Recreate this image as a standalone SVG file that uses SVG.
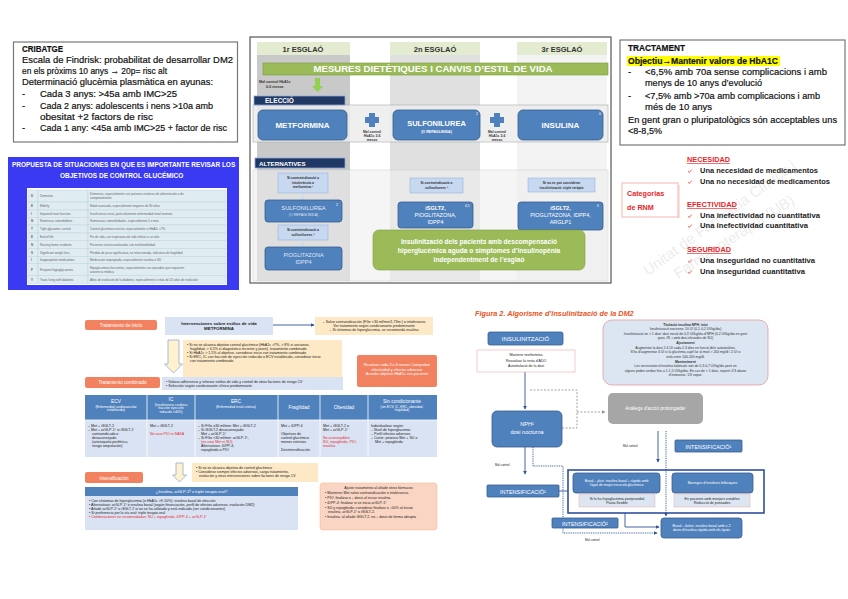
<svg xmlns="http://www.w3.org/2000/svg" width="848" height="599" viewBox="0 0 848 599">
<style>
text{font-family:"Liberation Sans",Arial,sans-serif}
.b{font-weight:bold}
.t9{font-size:9.5px;fill:#111;stroke:#111;stroke-width:0.2}
.w{fill:#fff}
.tiny{font-size:3.4px;fill:#333}
.tn{font-size:3.6px;fill:#222}
.box{stroke:#777;stroke-width:1.2;fill:#fff}
.blue{fill:#4f81bd;stroke:#385d8a;stroke-width:0.8}
.navy{fill:#1f3864;stroke:#8ea9db;stroke-width:0.8}
.lb{fill:#c6d9f1;stroke:#8eaadb;stroke-width:0.5}
.yel{fill:#fde9c6}
.org{fill:#f2825f}
.pale{fill:#dae3f3}
.red{fill:#e8262a}
.con{fill:none;stroke:#2f5597;stroke-width:0.9}
.dash{fill:none;stroke:#999;stroke-width:0.9;stroke-dasharray:2 1.5}
.dot{fill:none;stroke:#2f5597;stroke-width:0.9;stroke-dasharray:1 0.8}
</style>
<defs>
<marker id="ar" viewBox="0 0 6 6" refX="5" refY="3" markerWidth="4" markerHeight="4" orient="auto"><path d="M0,0L6,3L0,6z" fill="#2f5597"/></marker>
<marker id="ag" viewBox="0 0 6 6" refX="5" refY="3" markerWidth="4" markerHeight="4" orient="auto"><path d="M0,0L6,3L0,6z" fill="#999"/></marker>
</defs>
<rect width="848" height="599" fill="#fff"/>

<!-- Top-left CRIBATGE -->
<g id="cribatge">
<rect class="box" x="13.5" y="42" width="224" height="100"/>
<text class="t9 b" x="22" y="52" textLength="41" lengthAdjust="spacingAndGlyphs">CRIBATGE</text>
<text class="t9" x="22" y="63" textLength="211" lengthAdjust="spacingAndGlyphs">Escala de Findrisk: probabilitat de desarrollar DM2</text>
<text class="t9" x="22" y="74" textLength="145" lengthAdjust="spacingAndGlyphs">en els pròxims 10 anys → 20p= risc alt</text>
<text class="t9" x="22" y="85" textLength="191" lengthAdjust="spacingAndGlyphs">Determinació glucèmia plasmàtica en ayunas:</text>
<text class="t9" x="22" y="97">-</text>
<text class="t9" x="40" y="97" textLength="137" lengthAdjust="spacingAndGlyphs">Cada 3 anys: &gt;45a amb IMC&gt;25</text>
<text class="t9" x="22" y="109">-</text>
<text class="t9" x="40" y="109" textLength="173" lengthAdjust="spacingAndGlyphs">Cada 2 anys: adolescents i nens &gt;10a amb</text>
<text class="t9" x="40" y="120" textLength="113" lengthAdjust="spacingAndGlyphs">obesitat +2 factors de risc</text>
<text class="t9" x="22" y="131">-</text>
<text class="t9" x="40" y="131" textLength="187" lengthAdjust="spacingAndGlyphs">Cada 1 any: &lt;45a amb IMC&gt;25 + factor de risc</text>
</g>

<!-- Spanish table -->
<g id="propuesta">
<rect x="8" y="157" width="231" height="133" fill="#3a3af2"/>
<text class="b w" font-size="7.4" transform="translate(12,167) scale(0.8,1)" x="0" y="0" textLength="279" lengthAdjust="spacingAndGlyphs">PROPUESTA DE SITUACIONES EN QUE ES IMPORTANTE REVISAR LOS</text>
<text class="b w" font-size="7.4" transform="translate(60,178) scale(0.8,1)" x="0" y="0" textLength="154" lengthAdjust="spacingAndGlyphs">OBJETIVOS DE CONTROL GLUCÉMICO</text>
<rect x="27" y="188" width="200" height="97" fill="#fff"/>
<g fill="#dfecf2" stroke="#b8cfd8" stroke-width="0.4">
<rect x="28" y="190" width="10" height="12"/><rect x="38" y="190" width="50" height="12"/><rect x="88" y="190" width="138" height="12"/>
<rect x="28" y="202" width="10" height="8"/><rect x="38" y="202" width="50" height="8"/><rect x="88" y="202" width="138" height="8"/>
<rect x="28" y="210" width="10" height="7.5"/><rect x="38" y="210" width="50" height="7.5"/><rect x="88" y="210" width="138" height="7.5"/>
<rect x="28" y="217.5" width="10" height="7.5"/><rect x="38" y="217.5" width="50" height="7.5"/><rect x="88" y="217.5" width="138" height="7.5"/>
<rect x="28" y="225" width="10" height="8"/><rect x="38" y="225" width="50" height="8"/><rect x="88" y="225" width="138" height="8"/>
<rect x="28" y="233" width="10" height="7.5"/><rect x="38" y="233" width="50" height="7.5"/><rect x="88" y="233" width="138" height="7.5"/>
<rect x="28" y="240.5" width="10" height="8"/><rect x="38" y="240.5" width="50" height="8"/><rect x="88" y="240.5" width="138" height="8"/>
<rect x="28" y="248.5" width="10" height="8"/><rect x="38" y="248.5" width="50" height="8"/><rect x="88" y="248.5" width="138" height="8"/>
<rect x="28" y="256.5" width="10" height="7"/><rect x="38" y="256.5" width="50" height="7"/><rect x="88" y="256.5" width="138" height="7"/>
<rect x="28" y="263.5" width="10" height="12"/><rect x="38" y="263.5" width="50" height="12"/><rect x="88" y="263.5" width="138" height="12"/>
<rect x="28" y="275.5" width="10" height="8"/><rect x="38" y="275.5" width="50" height="8"/><rect x="88" y="275.5" width="138" height="8"/>
</g>
<g font-size="3" fill="#666">
<text x="31" y="197" class="b">D</text><text x="40" y="197">Dementia</text><text x="90" y="195">Demencia, especialmente con patrones erráticos de alimentación o de</text><text x="90" y="199">comportamiento</text>
<text x="31" y="207" class="b">E</text><text x="40" y="207">Elderly</text><text x="90" y="207">Edad avanzada, especialmente mayores de 80 años</text>
<text x="31" y="215" class="b">I</text><text x="40" y="215">Impaired renal function</text><text x="90" y="215">Insuficiencia renal, particularmente enfermedad renal terminal</text>
<text x="31" y="222" class="b">N</text><text x="40" y="222">Numerous comorbidities</text><text x="90" y="222">Numerosas comorbilidades, especialmente 5 o más</text>
<text x="31" y="230" class="b">T</text><text x="40" y="230">Tight glycaemic control</text><text x="90" y="230">Control glucémico estricto, especialmente si HbA1c &lt;7%</text>
<text x="31" y="238" class="b">E</text><text x="40" y="238">End of life</text><text x="90" y="238">Fin de vida, con esperanza de vida inferior a un año</text>
<text x="31" y="245.5" class="b">N</text><text x="40" y="245.5">Nursing home residents</text><text x="90" y="245.5">Pacientes institucionalizados con multimorbilidad</text>
<text x="31" y="253.5" class="b">S</text><text x="40" y="253.5">Significant weight loss</text><text x="90" y="253.5">Pérdida de peso significativa, no intencionada, indicativa de fragilidad</text>
<text x="31" y="261" class="b">I</text><text x="40" y="261">Inappropriate medications</text><text x="90" y="261">Medicación inapropiada, especialmente insulina o SU</text>
<text x="31" y="270.5" class="b">F</text><text x="40" y="270.5">Frequent hypoglycaemia</text><text x="90" y="268.5">Hipoglucemias frecuentes, especialmente con episodios que requieren</text><text x="90" y="272.5">asistencia médica</text>
<text x="31" y="280.5" class="b">Y</text><text x="40" y="280.5">Years living with diabetes</text><text x="90" y="280.5">Años de evolución de la diabetes, especialmente si más de 20 años de evolución</text>
</g>
</g>

<!-- Top middle esglaons -->
<g id="esglaons">
<rect x="250" y="37" width="361" height="246" fill="#fff" stroke="#555" stroke-width="1.2"/>
<rect x="257" y="55" width="93" height="226" fill="#c9c9c9"/>
<rect x="390" y="55" width="90" height="226" fill="#e0e0e0"/>
<rect x="517" y="55" width="90" height="226" fill="#f3f3f3"/>
<rect x="257" y="42" width="93" height="13" fill="#e3ebd0"/>
<rect x="390" y="42" width="90" height="13" fill="#e3ebd0"/>
<rect x="517" y="42" width="90" height="13" fill="#e3ebd0"/>
<text class="b" font-size="7.5" fill="#333" x="303" y="51.5" text-anchor="middle">1r ESGLAÓ</text>
<text class="b" font-size="7.5" fill="#333" x="435" y="51.5" text-anchor="middle">2n ESGLAÓ</text>
<text class="b" font-size="7.5" fill="#333" x="562" y="51.5" text-anchor="middle">3r ESGLAÓ</text>
<rect x="263" y="63" width="345" height="12" fill="#9bbb59" stroke="#7a9a3a" stroke-width="0.6"/>
<text class="b w" font-size="8.5" x="433" y="72" text-anchor="middle" textLength="239" lengthAdjust="spacingAndGlyphs">MESURES DIETÈTIQUES I CANVIS D’ESTIL DE VIDA</text>
<text class="b" font-size="3.6" fill="#333" x="259" y="83">Mal control HbA1c</text>
<text class="b" font-size="3.6" fill="#333" x="266" y="88">0-6 mesos</text>
<path d="M315,78h5v8h3l-5.5,6l-5.5,-6h3z" fill="#92d050"/>
<rect x="253" y="105" width="355" height="37" fill="#ececec" fill-opacity="0.85" stroke="#aaa" stroke-width="0.6"/>
<rect class="navy" x="254" y="96" width="91" height="9"/>
<text class="b w" font-size="6.5" x="265" y="103">ELECCIÓ</text>
</g>
<g id="metformina"><rect class="blue" x="258" y="110" width="89" height="30" rx="5"/><text class="b w" font-size="8" x="302.5" y="127.5" text-anchor="middle">METFORMINA</text></g>
<g id="plus1"><path d="M369,113h6v4h4v6h-4v4h-6v-4h-4v-6h4z" fill="#4f81bd"/>
<text class="b" font-size="3.4" fill="#333" x="372" y="133" text-anchor="middle">Mal control</text><text class="b" font-size="3.4" fill="#333" x="372" y="137" text-anchor="middle">HbA1c 3-6</text><text class="b" font-size="3.4" fill="#333" x="372" y="141" text-anchor="middle">mesos</text></g>
<g id="sulfo"><rect class="blue" x="393" y="110" width="87" height="30" rx="5"/><text class="b w" font-size="7.5" x="436.5" y="126" text-anchor="middle">SULFONILUREA</text><text class="b w" font-size="3.6" x="436.5" y="133" text-anchor="middle">(O REPAGLINIDA)</text><text class="w" font-size="3.5" x="476" y="115">2</text></g>
<g id="plus2"><path d="M494,113h6v4h4v6h-4v4h-6v-4h-4v-6h4z" fill="#4f81bd"/>
<text class="b" font-size="3.4" fill="#333" x="497" y="133" text-anchor="middle">Mal control</text><text class="b" font-size="3.4" fill="#333" x="497" y="137" text-anchor="middle">HbA1c 3-6</text><text class="b" font-size="3.4" fill="#333" x="497" y="141" text-anchor="middle">mesos</text></g>
<g id="insulina"><rect class="blue" x="518" y="110" width="85" height="30" rx="5"/><text class="b w" font-size="8" x="560.5" y="128" text-anchor="middle">INSULINA</text><text class="w" font-size="3.5" x="599" y="115">6</text></g>
<g id="alternatives">
<rect x="253" y="170" width="355" height="111" fill="#efefef" fill-opacity="0.6" stroke="#ccc" stroke-width="0.5"/>
<rect class="navy" x="255" y="158" width="90" height="10"/>
<text class="b w" font-size="6.2" x="259" y="165.8">ALTERNATIVES</text>
</g>
<g id="alt1a"><rect class="lb" x="278" y="173" width="50" height="20"/><text class="b tiny" x="303" y="179" text-anchor="middle">Si contraindicació o</text><text class="b tiny" x="303" y="183.5" text-anchor="middle">intolerància a</text><text class="b tiny" x="303" y="188" text-anchor="middle">metformina ¹</text></g>
<path d="M302,193v5h-1.5l2,2l2,-2h-1.5v-5z" fill="#c6d9f1"/>
<g id="alt1b"><rect class="blue" x="265" y="200" width="77" height="22" rx="3"/><text class="w" font-size="5.8" fill-opacity="0.85" x="303.5" y="210" text-anchor="middle">SULFONILUREA</text><text class="w" font-size="3.5" fill-opacity="0.85" x="303.5" y="216" text-anchor="middle">(O REPAGLINIDA)</text><text class="w" font-size="3.5" x="336" y="206">2</text></g>
<g id="alt1c"><rect class="lb" x="278" y="225" width="50" height="15"/><text class="b tiny" x="303" y="231" text-anchor="middle">Si contraindicació a</text><text class="b tiny" x="303" y="236" text-anchor="middle">sulfonilurees ³</text></g>
<path d="M302,240v4h-1.5l2,2l2,-2h-1.5v-4z" fill="#c6d9f1"/>
<g id="alt1d"><rect class="blue" x="265" y="247" width="77" height="23" rx="3"/><text class="w" font-size="5.5" fill-opacity="0.85" x="303.5" y="256.5" text-anchor="middle">PIOGLITAZONA</text><text class="w" font-size="5.5" fill-opacity="0.85" x="303.5" y="264" text-anchor="middle">IDPP4</text></g>
<g id="alt2a"><rect class="lb" x="410" y="178" width="53" height="15"/><text class="b tiny" x="436.5" y="184" text-anchor="middle">Si contraindicació a</text><text class="b tiny" x="436.5" y="189" text-anchor="middle">sulfonilurees ³</text></g>
<g id="alt2b"><rect class="blue" x="398" y="202" width="75" height="26" rx="3"/><text class="w b" font-size="5.5" x="435.5" y="210" text-anchor="middle">iSGLT2,</text><text class="w" font-size="5.5" x="435.5" y="217" text-anchor="middle">PIOGLITAZONA,</text><text class="w" font-size="5.5" x="435.5" y="224" text-anchor="middle">IDPP4</text><text class="w" font-size="3.3" x="465" y="207">4,5</text></g>
<g id="alt3a"><rect class="lb" x="528" y="178" width="67" height="14"/><text class="b tiny" x="561.5" y="184" text-anchor="middle">Si no es pot considerar</text><text class="b tiny" x="561.5" y="188.5" text-anchor="middle">insulinització: triple teràpia</text></g>
<g id="alt3b"><rect class="blue" x="518" y="202" width="85" height="28" rx="3"/><text class="w b" font-size="5.5" x="560.5" y="210" text-anchor="middle">iSGLT2,</text><text class="w" font-size="5.5" x="560.5" y="217" text-anchor="middle">PIOGLITAZONA, IDPP4,</text><text class="w" font-size="5.5" x="560.5" y="224" text-anchor="middle">ARGLP1</text><text class="w" font-size="3.3" x="597" y="207">6</text></g>
<g id="insulinitzacio-green"><rect x="373" y="230" width="212" height="40" rx="6" fill="#9bbb59" stroke="#7f9f45" stroke-width="0.6"/>
<text class="b w" font-size="6.6" x="479" y="244" text-anchor="middle">Insulinització dels pacients amb descompensació</text>
<text class="b w" font-size="6.6" x="479" y="253" text-anchor="middle">hiperglucèmica aguda o símptomes d’insulinopènia</text>
<text class="b w" font-size="6.6" x="479" y="262" text-anchor="middle">independentment de l’esglaó</text></g>

<!-- Top right TRACTAMENT -->
<g id="tractament">
<rect class="box" x="620" y="40" width="225" height="105"/>
<rect x="627" y="56" width="153" height="10" fill="#ffff00"/>
<text class="t9 b" x="628" y="51" textLength="57" lengthAdjust="spacingAndGlyphs">TRACTAMENT</text>
<text class="t9 b" x="628" y="64" textLength="150" lengthAdjust="spacingAndGlyphs">Objectiu→Mantenir valors de HbA1C</text>
<text class="t9" x="628" y="75">-</text>
<text class="t9" x="645" y="75" textLength="182" lengthAdjust="spacingAndGlyphs">&lt;6,5% amb 70a sense complicacions i amb</text>
<text class="t9" x="645" y="86" textLength="117" lengthAdjust="spacingAndGlyphs">menys de 10 anys d’evolució</text>
<text class="t9" x="628" y="99">-</text>
<text class="t9" x="645" y="99" textLength="175" lengthAdjust="spacingAndGlyphs">&lt;7,5% amb &gt;70a amb complicacions i amb</text>
<text class="t9" x="645" y="110" textLength="67" lengthAdjust="spacingAndGlyphs">més de 10 anys</text>
<text class="t9" x="628" y="123" textLength="209" lengthAdjust="spacingAndGlyphs">En gent gran o pluripatològics són acceptables uns</text>
<text class="t9" x="628" y="134" textLength="34" lengthAdjust="spacingAndGlyphs">&lt;8-8,5%</text>
</g>

<!-- RNM -->
<g id="rnm">
<g fill="#dcdcdc" fill-opacity="0.55" font-size="15">
<text transform="translate(648,276) rotate(-36)">Unitat de Farmàcia Clínica i</text>
<text transform="translate(678,279) rotate(-33)">Farmacoteràpia (UB)</text>
</g>
<rect x="622" y="183" width="56" height="34" fill="#fff" stroke="#f4b6b0" stroke-width="1"/>
<rect x="678" y="185" width="1.5" height="33" fill="#f6c9c4"/>
<text class="b red" font-size="7.2" x="627" y="196">Categorias</text>
<text class="b red" font-size="7.2" x="627" y="210">de RNM</text>
<g class="b red" font-size="6.6" text-decoration="underline">
<text x="687" y="162" textLength="43" lengthAdjust="spacingAndGlyphs">NECESIDAD</text>
<text x="687" y="207" textLength="50" lengthAdjust="spacingAndGlyphs">EFECTIVIDAD</text>
<text x="687" y="252" textLength="44" lengthAdjust="spacingAndGlyphs">SEGURIDAD</text>
</g>
<g fill="none" stroke="#e8262a" stroke-width="0.7">
<path d="M688,171l1.3,1.5l2.5,-3"/><path d="M688,182l1.3,1.5l2.5,-3"/>
<path d="M688,216l1.3,1.5l2.5,-3"/><path d="M688,226l1.3,1.5l2.5,-3"/>
<path d="M688,261l1.3,1.5l2.5,-3"/><path d="M688,272l1.3,1.5l2.5,-3"/>
</g>
<g class="b" font-size="6.4" fill="#222">
<text x="700" y="173" textLength="118" lengthAdjust="spacingAndGlyphs">Una necesidad de medicamentos</text>
<text x="700" y="184" textLength="130" lengthAdjust="spacingAndGlyphs">Una no necesidad de medicamentos</text>
<text x="700" y="218" textLength="120" lengthAdjust="spacingAndGlyphs">Una inefectividad no cuantitativa</text>
<text x="700" y="228" textLength="108" lengthAdjust="spacingAndGlyphs">Una inefectividad cuantitativa</text>
<text x="700" y="263" textLength="115" lengthAdjust="spacingAndGlyphs">Una inseguridad no cuantitativa</text>
<text x="700" y="274" textLength="105" lengthAdjust="spacingAndGlyphs">Una inseguridad cuantitativa</text>
</g>
</g>

<!-- Bottom-left flowchart -->
<g id="connectors-left">
<path class="con" d="M273,325H314" marker-end="url(#ar)"/>
<path d="M168,340h11v24h3.5l-9,9l-9,-9h3.5z" fill="#fff2cc" stroke="#8faadc" stroke-width="0.8"/>
<path d="M176,463h7v12h3.5l-7,7l-7,-7h3.5z" fill="#fff2cc" stroke="#8faadc" stroke-width="0.8"/>
</g>
<g id="inicio"><rect class="org" x="85" y="320" width="72" height="10" rx="2"/><text class="w" font-size="4.6" x="121" y="326.5" text-anchor="middle">Tratamiento de inicio</text></g>
<g id="intervenciones"><rect class="pale" x="165" y="317" width="108" height="18"/><text class="b" font-size="4.4" fill="#222" x="219" y="324.5" text-anchor="middle">Intervenciones sobre estilos de vida</text><text class="b" font-size="4.4" fill="#222" x="219" y="330" text-anchor="middle">METFORMINA</text></g>
<g id="salvo"><rect class="yel" x="315" y="317" width="118" height="18"/>
<text class="tn" x="374" y="322.5" text-anchor="middle">–  Salvo contraindicación (FGe &lt;30 ml/min/1,73m²) o intolerancia</text>
<text class="tn" x="374" y="326.5" text-anchor="middle">Ver tratamiento según condicionante predominante</text>
<text class="tn" x="374" y="330.5" text-anchor="middle">–  Si síntomas de hiperglucemia, se recomienda insulina</text></g>
<g id="noalcanza"><rect class="yel" x="183" y="340" width="159" height="38"/>
<text class="tn" x="187" y="346">•  Si no se alcanza objetivo control glucémico (HbA1c &gt;7%, &gt; 8% si ancianos,</text>
<text class="tn" x="190" y="350">fragilidad, &gt; 6,5% si diagnóstico reciente y joven), tratamiento combinado</text>
<text class="tn" x="187" y="354">•  Si HbA1c &gt; 1,5% al objetivo, considerar inicio con tratamiento combinado</text>
<text class="tn" x="187" y="358">•  Si ERC, IC con fracción de eyección reducida o ECV establecida, considerar inicio</text>
<text class="tn" x="190" y="362">con tratamiento combinado</text></g>
<g id="revaluar"><rect class="org" x="357" y="355" width="80" height="32" rx="2"/>
<text class="w" font-size="3.8" x="397" y="366" text-anchor="middle">Revaluar cada 3 a 6 meses Comprobar</text>
<text class="w" font-size="3.8" x="397" y="370.5" text-anchor="middle">efectividad y efectos adversos</text>
<text class="w" font-size="3.8" x="397" y="375" text-anchor="middle">Acordar objetivo HbA1c con paciente</text></g>
<g id="combinado"><rect class="org" x="85" y="377" width="75" height="11" rx="2"/><text class="w" font-size="4.6" x="122.5" y="384" text-anchor="middle">Tratamiento combinado</text></g>
<g id="valorar"><rect class="pale" x="162" y="377" width="181" height="13"/>
<text class="tn" x="166" y="382.5">•  Valorar adherencia y reforzar estilos de vida y control de otros factores de riesgo CV</text>
<text class="tn" x="166" y="386.5">•  Selección según condicionante clínico predominante</text></g>
<g id="tabla">
<rect x="85" y="395" width="352" height="25" fill="#4f81bd"/>
<rect x="85" y="420" width="352" height="37" fill="#dae3f3"/>
<g stroke="#fff" stroke-width="0.8"><path d="M147,395V457M195,395V457M278,395V457M320,395V457M368,395V457M85,420H437"/></g>
<g class="w" text-anchor="middle">
<text font-size="4.8" x="116" y="403">ECV</text><text font-size="3.3" x="116" y="407.5">(Enfermedad cardiovascular</text><text font-size="3.3" x="116" y="411">establecida)</text>
<text font-size="4.8" x="171" y="401">IC</text><text font-size="3.3" x="171" y="405.5">(Insuficiencia cardiaca</text><text font-size="3.3" x="171" y="409">fracción eyección</text><text font-size="3.3" x="171" y="412.5">reducida &lt;40%)</text>
<text font-size="4.8" x="236" y="403">ERC</text><text font-size="3.3" x="236" y="407.5">(Enfermedad renal crónica)</text>
<text font-size="4.8" x="299" y="409">Fragilidad</text>
<text font-size="4.8" x="344" y="409">Obesidad</text>
<text font-size="4.8" x="402" y="403">Sin condicionante</text><text font-size="3.3" x="402" y="407.5">(sin ECV, IC, ERC, obesidad,</text><text font-size="3.3" x="402" y="411">fragilidad)</text>
</g>
<g class="tn">
<text x="88" y="427">–  Met + iSGLT-2</text>
<text x="88" y="431">–  Met + arGLP-1ª si iSGLT-2</text>
<text x="92" y="435">contraindicado o</text>
<text x="92" y="439">desaconsejado</text>
<text x="92" y="443">(arteriopatía periférica,</text>
<text x="92" y="447">riesgo amputación)</text>
<text x="150" y="427">Met + iSGLT-2</text>
<text x="150" y="435" class="red">No usar PIO ni SAXA</text>
<text x="198" y="427">–  Si FGe ≥30 ml/min: Met + iSGLT-2</text>
<text x="198" y="431">–  Si iSGLT-2 desaconsejado:</text>
<text x="201" y="435">Met + arGLP-1ª</text>
<text x="198" y="439">–  Si FGe &lt;30 ml/min: arGLP-1ª,</text>
<text x="201" y="443" class="red">(no usar Met ni SU).</text>
<text x="201" y="447">Alternativas: iDPP-4,</text>
<text x="201" y="451">repaglinida o PIO</text>
<text x="281" y="427">Met + iDPP-4</text>
<text x="281" y="435">Objetivos de</text>
<text x="281" y="439">control glucémico</text>
<text x="281" y="443">menos estrictos</text>
<text x="281" y="451">Desintensificación</text>
<text x="323" y="427">Met + iSGLT-2 o</text>
<text x="323" y="431">Met + arGLP-1ª</text>
<text x="323" y="439" class="red">No aconsejables:</text>
<text x="323" y="443" class="red">SU, repaglinida, PIO,</text>
<text x="323" y="447" class="red">insulina</text>
<text x="371" y="427">Individualizar según:</text>
<text x="371" y="431">–  Nivel de hiperglucemia</text>
<text x="371" y="435">–  Perfil efectos adversos</text>
<text x="371" y="439">–  Coste: priorizar  Met + SU o</text>
<text x="375" y="443">Met + repaglinida</text>
</g>
</g>
<g id="noalcanza2"><rect class="yel" x="192" y="463" width="126" height="19"/>
<text class="tn" x="196" y="469">•  Si no se alcanza objetivo de control glucémico</text>
<text class="tn" x="196" y="473">•  Considerar siempre efectos adversos, carga tratamiento,</text>
<text class="tn" x="199" y="477">evolución y otras intervenciones sobre factores de riesgo CV</text></g>
<g id="intensificacion"><rect class="org" x="85" y="472" width="58" height="11" rx="2"/><text class="w" font-size="4.6" x="114" y="479.5" text-anchor="middle">Intensificación</text></g>
<g id="insulina-arglp">
<rect x="85" y="487" width="213" height="9" fill="#4f81bd"/>
<text class="w" font-size="4" x="191.5" y="493" text-anchor="middle">¿Insulina,  arGLP-1ª o triple terapia oral?</text>
<rect class="pale" x="85" y="496" width="213" height="34"/>
<text class="tn" x="89" y="502">•  Con síntomas de hiperglucemia (o HbA1c &gt;9-10%): insulina basal de elección</text>
<text class="tn" x="89" y="506">•  Alternativas:  arGLP-1ª o  insulina basal (según financiación, perfil de efectos adversos, evolución DM2)</text>
<text class="tn" x="89" y="510">•  Añadir arGLP-1ª o iSGLT-2  si no se ha utilizado y está indicado (ver condicionantes)</text>
<text class="tn" x="89" y="514">•  Si preferencia por la vía oral: triple terapia oral</text>
<text class="tn red" x="89" y="518">•  Combinaciones no recomendadas: SU + repaglinida; iDPP-4 + arGLP-1ª</text>
</g>
<g id="ajuste"><rect x="320" y="483" width="117" height="47" rx="3" fill="#fbd5c4" stroke="#f4b183" stroke-width="0.5"/>
<text class="tn" x="378.5" y="489" text-anchor="middle">Ajuste tratamiento al añadir otros fármacos</text>
<text class="tn" x="325" y="494">•  Mantener Met salvo contraindicación o intolerancia</text>
<text class="tn" x="325" y="499">•  PIO: finalizar o ↓ dosis al iniciar insulina</text>
<text class="tn" x="325" y="504">•  iDPP-4: finalizar si se inicia arGLP-1ª</text>
<text class="tn" x="325" y="509">•  SU y repaglinida: considerar finalizar o ↓50% al iniciar</text>
<text class="tn" x="328" y="513">insulina, arGLP-1ª o iSGLT-2.</text>
<text class="tn" x="325" y="518">•  Insulina: al añadir iSGLT-2, no ↓ dosis de forma abrupta</text></g>

<!-- Bottom-right insulinització -->
<text class="b" font-size="7.3" font-style="italic" fill="#e8541e" x="475" y="316">Figura 2. Algorisme d’insulinització de la DM2</text>
<g id="connectors-right">
<path class="con" d="M525,372V409" marker-end="url(#ar)"/>
<path class="dash" d="M530,390H577V428H562M577,412H605" marker-end="url(#ag)"/>
<path class="con" d="M658,431V462" marker-end="url(#ar)"/>
<path class="dot" d="M666,431V516" marker-end="url(#ar)"/>
<path class="con" d="M525,447V474" marker-end="url(#ar)"/>
<path class="dot" d="M533,447V466H563V533H657" marker-end="url(#ar)"/>
<path class="con" d="M559,491H568"/>
<path class="con" d="M625,513V527H659" marker-end="url(#ar)"/>
</g>
<g class="tn">
<text x="623" y="447" font-size="3">Mal control</text>
<text x="495" y="466" font-size="3">Mal control</text>
<text x="585" y="541" font-size="3">Mal control</text>
</g>
<g id="insulinitzacio"><rect class="blue" x="488" y="332" width="75" height="13" rx="2"/><text class="w" font-size="6" x="525.5" y="341" text-anchor="middle">INSULINITZACIÓ</text></g>
<g id="mantenir"><rect x="477" y="350" width="98" height="22" fill="#fff" stroke="#f2a7a7" stroke-width="0.6"/>
<text class="tn" x="526" y="356" text-anchor="middle">Mantenir metformina</text>
<text class="tn" x="526" y="361.5" text-anchor="middle">Reavaluar la resta d’ADO</text>
<text class="tn" x="526" y="367" text-anchor="middle">Autotitulació de la dosi</text></g>
<g id="titulacio"><rect x="603" y="320" width="165" height="65" rx="9" fill="#dce6f2" stroke="#e89a9a" stroke-width="0.8"/>
<g class="tiny" text-anchor="middle">
<text class="b" x="685.5" y="325.5">Titulació insulina NPH: inici</text>
<text x="685.5" y="330">Insulinització nocturna: 10 UI (0,1-0,2 UI/kg/dia)</text>
<text x="685.5" y="334.5">Insulinització en &gt; 1 dosi: dosi inicial de 0,3 UI/kg/dia d’NPH (0,2 UI/kg/dia en gent</text>
<text x="685.5" y="339">gran, IR, i amb dosi elevades de SU)</text>
<text class="b" x="685.5" y="344">Ajustament</text>
<text x="685.5" y="348.5">Augmentar la dosi 2-4 UI cada 2-3 dies en funció dels autoanàlisis.</text>
<text x="685.5" y="353">S’ha d’augmentar 4 UI si la glucèmia capil·lar al matí &gt; 200 mg/dl i 2 UI si</text>
<text x="685.5" y="357.5">està entre 140-200 mg/dl.</text>
<text class="b" x="685.5" y="362.5">Manteniment</text>
<text x="685.5" y="367">Les necessitats d’insulina habituals són de 0,3-0,7 UI/kg/dia però en</text>
<text x="685.5" y="371.5">alguns poden arribar fins a 1-1,5 UI/kg/dia. En cas de &gt; 1 dosi, repartir 2/3 abans</text>
<text x="685.5" y="376">d’esmorzar, 1/3 sopar.</text>
</g></g>
<g id="analegs"><rect x="608" y="393" width="95" height="31" rx="5" fill="#a6a6a6"/><text class="w" font-size="4.8" x="655.5" y="410" text-anchor="middle">Anàlegs d’acció prolongada¹</text></g>
<g id="nph"><rect class="blue" x="492" y="411" width="70" height="36" rx="5"/><text class="w" font-size="5.5" x="527" y="426" text-anchor="middle">NPH¹</text><text class="w" font-size="5.5" x="527" y="434" text-anchor="middle">dosi nocturna</text></g>
<g id="intens1a"><rect class="blue" x="675" y="440" width="67" height="12" rx="1"/><text class="w" font-size="5.5" x="708.5" y="448.5" text-anchor="middle">INTENSIFICACIÓ¹</text></g>
<g id="marc"><rect x="568" y="470" width="196" height="43" fill="none" stroke="#2f4f9f" stroke-width="1.6"/></g>
<g id="basalplus"><rect class="blue" x="573" y="473" width="87" height="20" rx="3"/><text class="w" font-size="3.5" x="616.5" y="481.5" text-anchor="middle">Basal – plus: insulina basal + ràpida amb</text><text class="w" font-size="3.5" x="616.5" y="486" text-anchor="middle">l’àpat de major excursió glucèmica</text>
<rect x="579" y="494" width="76" height="13" fill="#dce6f2" stroke="#f2a7a7" stroke-width="0.5"/><text class="tn" font-size="3.3" x="617" y="499.5" text-anchor="middle">Si hi ha hipoglucèmia postprandial</text><text class="tn" font-size="3.3" x="617" y="504" text-anchor="middle">Pauta flexible</text></g>
<g id="barreges"><rect class="blue" x="672" y="473" width="81" height="20" rx="3"/><text class="w" font-size="3.6" x="712.5" y="484" text-anchor="middle">Barreges d’insulines bifàsiques</text>
<rect x="674" y="494" width="76" height="13" fill="#dce6f2" stroke="#f2a7a7" stroke-width="0.5"/><text class="tn" font-size="3.3" x="712" y="499.5" text-anchor="middle">En pacients amb menjars estables</text><text class="tn" font-size="3.3" x="712" y="504" text-anchor="middle">Reducció de punxades</text></g>
<g id="intens1b"><rect class="blue" x="487" y="485" width="72" height="12" rx="1"/><text class="w" font-size="5.5" x="523" y="493.5" text-anchor="middle">INTENSIFICACIÓ¹</text></g>
<g id="intens2"><rect class="blue" x="552" y="518" width="66" height="10" rx="1"/><text class="w" font-size="5.5" x="585" y="525.5" text-anchor="middle">INTENSIFICACIÓ²</text></g>
<g id="basalbolus"><rect class="blue" x="661" y="518" width="81" height="20" rx="3"/><text class="w" font-size="3.5" x="701.5" y="526.5" text-anchor="middle">Basal – bolus: insulina basal amb ≥ 2</text><text class="w" font-size="3.5" x="701.5" y="531" text-anchor="middle">dosis d’insulina ràpida amb els àpats</text></g>
</svg>
